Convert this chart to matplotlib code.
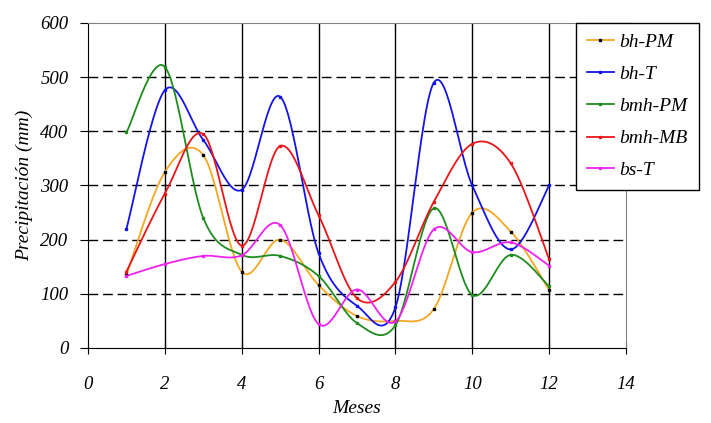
import numpy as np
import matplotlib
matplotlib.use("Agg")
import matplotlib.pyplot as plt

months = [1, 2, 3, 4, 5, 6, 7, 8, 9, 10, 11, 12]
bh_pm = [135, 325, 356, 141, 200, 116, 59, 50, 72, 250, 215, 107]
bh_t = [220, 476, 384, 292, 464, 175, 78, 75, 490, 300, 182, 300]
bmh_pm = [398, 519, 240, 172, 170, 133, 46, 42, 258, 98, 172, 114]
bmh_mb = [141, 285, 395, 189, 373, 245, 92, 122, 270, 377, 341, 164]
bs_t = [133, 155, 170, 171, 227, 44, 108, 49, 219, 177, 195, 152]

series = [
    ("bh-PM", bh_pm, "#F5A623", "black"),
    ("bh-T", bh_t, "#1414E6", "#1414E6"),
    ("bmh-PM", bmh_pm, "#1E8C1E", "#1E8C1E"),
    ("bmh-MB", bmh_mb, "#E8161A", "#E8161A"),
    ("bs-T", bs_t, "#EE22EE", "#EE22EE"),
]


def smooth(x, y, n=30):
    # Excel-like smoothing: Catmull-Rom as cubic Bezier segments
    x = np.asarray(x, float)
    y = np.asarray(y, float)
    px = np.concatenate([[x[0]], x, [x[-1]]])
    py = np.concatenate([[y[0]], y, [y[-1]]])
    t = np.linspace(0, 1, n)[:, None]
    xs, ys = [], []
    for i in range(1, len(px) - 2):
        p0 = np.array([px[i], py[i]])
        p3 = np.array([px[i + 1], py[i + 1]])
        c1 = p0 + (np.array([px[i + 1], py[i + 1]]) - np.array([px[i - 1], py[i - 1]])) / 6
        c2 = p3 - (np.array([px[i + 2], py[i + 2]]) - np.array([px[i], py[i]])) / 6
        b = ((1 - t) ** 3) * p0 + 3 * ((1 - t) ** 2) * t * c1 + 3 * (1 - t) * t ** 2 * c2 + t ** 3 * p3
        xs.append(b[:, 0])
        ys.append(b[:, 1])
    return np.concatenate(xs), np.concatenate(ys)


plt.rcParams["font.family"] = "Liberation Serif"
plt.rcParams["font.style"] = "italic"

fig = plt.figure(figsize=(7.11, 4.23), dpi=100)
ax = fig.add_axes([88 / 711, 1 - 348 / 423, (626 - 88) / 711, (348 - 23) / 423])

for yv in [100, 200, 300, 400, 500]:
    ax.axhline(yv, color="black", lw=1, dashes=(7, 3.5), zorder=1)
for xv in [2, 4, 6, 8, 10, 12]:
    ax.axvline(xv, color="black", lw=1, zorder=1)

for name, vals, col, mcol in series:
    sx, sy = smooth(months, vals)
    ax.plot(sx, sy, color=col, lw=1.3, zorder=3)
    ax.plot(months, vals, ls="none", marker="s", ms=2, color=mcol, zorder=4)
    ax.plot([], [], color=col, lw=1.3, marker="s", ms=2, mfc=mcol, mec=mcol, label=name)

ax.set_xlim(0, 14)
ax.set_ylim(0, 600)
ax.set_xticks(range(0, 15, 2))
ax.set_yticks(range(0, 601, 100))
ax.tick_params(axis="x", direction="inout", length=8, pad=16, labelsize=13.5)
ax.tick_params(axis="y", direction="out", length=6, pad=8, labelsize=13.5)
for s in ["top", "right"]:
    ax.spines[s].set_color("#808080")
ax.set_xlabel("Meses", fontsize=14, labelpad=5)
ax.set_ylabel("Precipitación (mm)", fontsize=14, labelpad=5)

leg = ax.legend(loc="upper left", bbox_to_anchor=(576 / 711, 1 - 23 / 423),
                bbox_transform=fig.transFigure, fontsize=14, frameon=True,
                fancybox=False, edgecolor="black", framealpha=1,
                handlelength=1.4, labelspacing=0.74, borderpad=0.55,
                handletextpad=0.3, borderaxespad=0)
leg.get_frame().set_linewidth(1)
leg.set_zorder(10)

fig.savefig("out.png", dpi=100)
